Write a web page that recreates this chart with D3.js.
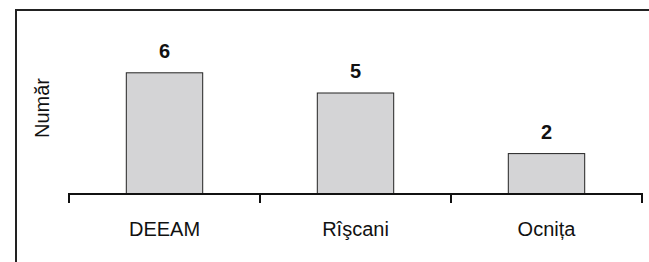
<!DOCTYPE html>
<html>
<head>
<meta charset="utf-8">
<script src="https://cdn.jsdelivr.net/npm/d3@7"></script>
<style>
  body { margin: 0; background: #fff; }
  text { font-family: "Liberation Sans", Arial, sans-serif; fill: #111; }
</style>
</head>
<body>
<div id="chart-container"></div>
<script>
const categories = ['DEEAM', 'Rîşcani', 'Ocnița'];
const values = [6, 5, 2];
const yLabel = 'Număr';

function drawBarChart() {
  const W = 649, H = 262;
  const base = 194;

  const svg = d3.select('#chart-container')
    .append('svg')
    .attr('width', W)
    .attr('height', H);

  // outer frame, runs off the right and bottom edge
  svg.append('rect')
    .attr('x', 16).attr('y', 10)
    .attr('width', 700).attr('height', 300)
    .attr('fill', 'none')
    .attr('stroke', '#222')
    .attr('stroke-width', 2);

  const xScale = d3.scaleBand()
    .domain(categories)
    .range([69, 642])
    .padding(0);

  const yScale = d3.scaleLinear()
    .domain([0, 8])
    .range([base, base - 8 * 20.2]);

  const barW = xScale.bandwidth() * 0.4;

  svg.selectAll('.bar')
    .data(values)
    .enter().append('rect')
    .attr('class', 'bar')
    .attr('x', (d, i) => xScale(categories[i]) + (xScale.bandwidth() - barW) / 2)
    .attr('y', d => yScale(d))
    .attr('width', barW)
    .attr('height', d => base - yScale(d))
    .attr('fill', '#d4d4d6')
    .attr('stroke', '#222')
    .attr('stroke-width', 1);

  svg.selectAll('.val')
    .data(values)
    .enter().append('text')
    .attr('class', 'val')
    .attr('x', (d, i) => xScale(categories[i]) + xScale.bandwidth() / 2)
    .attr('y', d => yScale(d) - 15)
    .attr('text-anchor', 'middle')
    .style('font-size', '20px')
    .style('font-weight', 'bold')
    .text(d => d);

  // category axis, labels only
  const xAxis = svg.append('g')
    .attr('transform', `translate(0,${base})`)
    .call(d3.axisBottom(xScale).tickSize(0).tickPadding(28));
  xAxis.select('.domain').remove();
  xAxis.selectAll('text')
    .style('font-size', '20px')
    .style('font-family', '"Liberation Sans", Arial, sans-serif')
    .attr('fill', '#111');

  // baseline with ticks at band boundaries
  const edges = categories.map(c => xScale(c)).concat([xScale.range()[1]]);
  svg.append('line')
    .attr('x1', edges[0] - 1).attr('x2', edges[edges.length - 1] + 1)
    .attr('y1', base).attr('y2', base)
    .attr('stroke', '#111').attr('stroke-width', 2);
  svg.selectAll('.tick-mark')
    .data(edges)
    .enter().append('line')
    .attr('class', 'tick-mark')
    .attr('x1', d => d).attr('x2', d => d)
    .attr('y1', base).attr('y2', base + 9)
    .attr('stroke', '#111').attr('stroke-width', 2);

  svg.append('text')
    .attr('transform', 'rotate(-90)')
    .attr('x', -108)
    .attr('y', 42)
    .attr('dy', '0.35em')
    .attr('text-anchor', 'middle')
    .style('font-size', '20px')
    .text(yLabel);
}

drawBarChart();
</script>
</body>
</html>
